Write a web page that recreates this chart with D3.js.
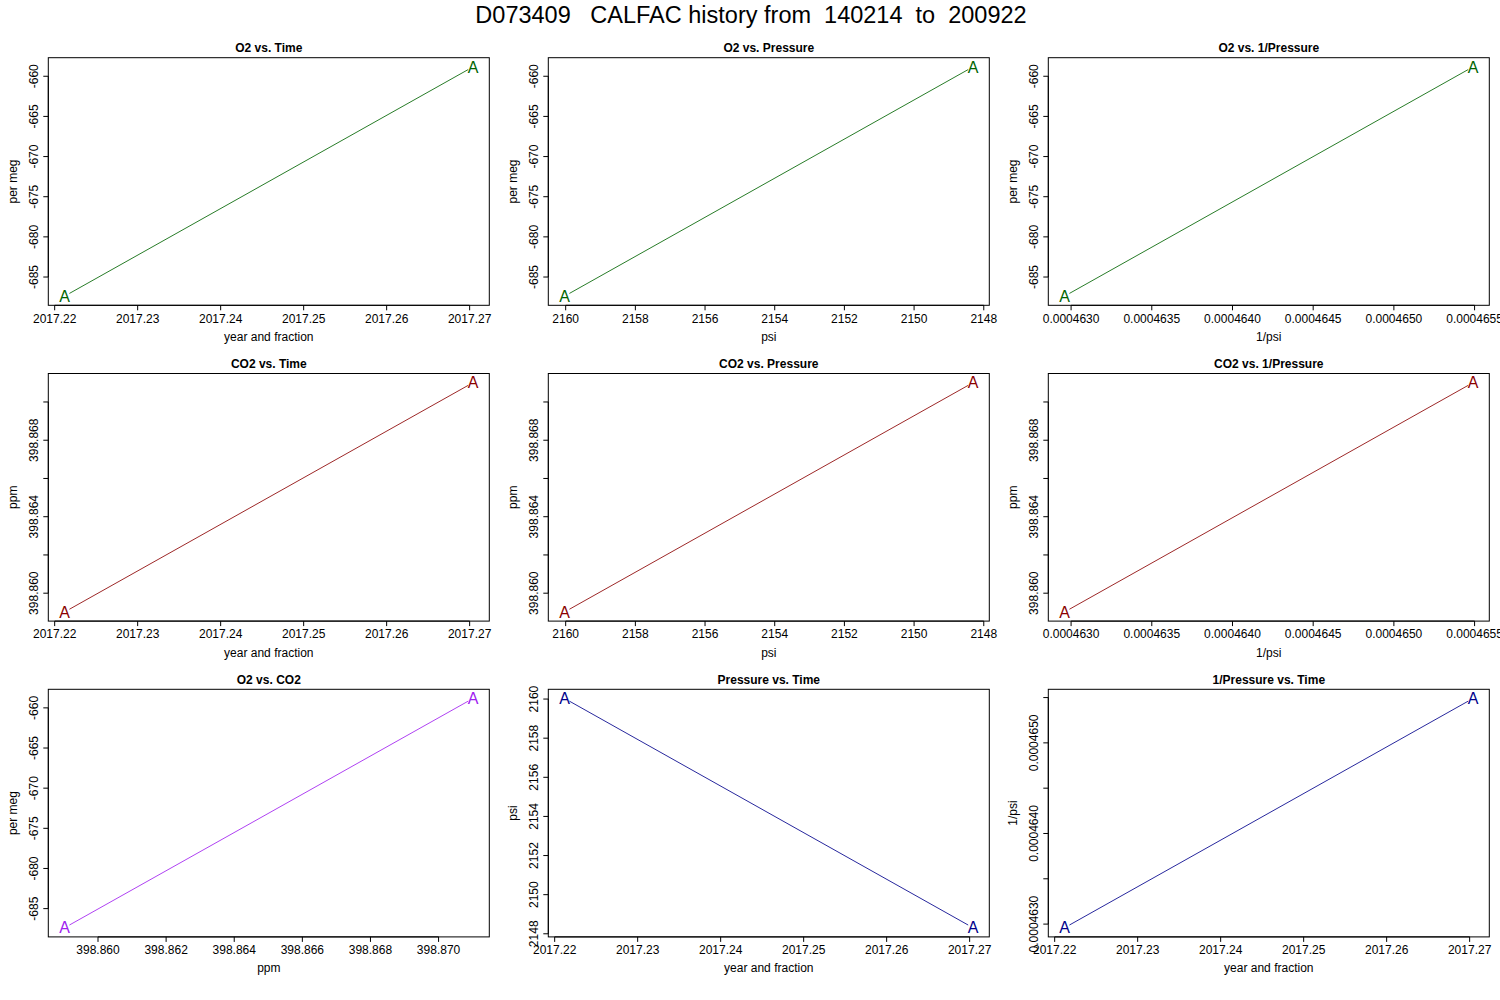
<!DOCTYPE html>
<html>
<head>
<meta charset="utf-8">
<script src="https://cdn.jsdelivr.net/npm/d3@7"></script>
<style>
  html, body { margin: 0; padding: 0; background: #fff; }
  svg { display: block; font-family: "Liberation Sans", Arial, Helvetica, sans-serif; }
</style>
</head>
<body>
<svg id="chart" width="1500" height="1000"></svg>
<script>
// ---- data ----
const mainTitle = "D073409   CALFAC history from  140214  to  200922";
const timeVals = [2017.2212, 2017.2704];          // year and fraction
const o2Vals = [-687.38, -658.83];                // per meg
const co2Vals = [398.85902, 398.87101];           // ppm
const psiVals = [2160.03, 2148.31];               // psi
const invPsiVals = [0.00046296, 0.00046549];      // 1/psi
const pointLabels = ["A", "A"];

const series = { time: timeVals, o2: o2Vals, co2: co2Vals, psi: psiVals, inv: invPsiVals };
const tickFormats = {
  time: d => d.toFixed(2),
  o2: d => d3.format("d")(d).replace("−", "-"),
  co2: d => d.toFixed(3),
  psi: d => d3.format("d")(d),
  inv: d => d.toFixed(7)
};

const panelTitles = ["O2 vs. Time", "O2 vs. Pressure", "O2 vs. 1/Pressure",
                     "CO2 vs. Time", "CO2 vs. Pressure", "CO2 vs. 1/Pressure",
                     "O2 vs. CO2", "Pressure vs. Time", "1/Pressure vs. Time"];
const panelX = ["time", "psi", "inv", "time", "psi", "inv", "co2", "time", "time"];
const panelY = ["o2", "o2", "o2", "co2", "co2", "co2", "o2", "psi", "inv"];
const xLabels = ["year and fraction", "psi", "1/psi", "year and fraction", "psi", "1/psi",
                 "ppm", "year and fraction", "year and fraction"];
const yLabels = ["per meg", "per meg", "per meg", "ppm", "ppm", "ppm", "per meg", "psi", "1/psi"];
const panelColors = ["#006400", "#006400", "#006400", "#8B0000", "#8B0000", "#8B0000",
                     "#A020F0", "#00008B", "#00008B"];
const reversedX = [false, true, false, false, true, false, false, false, false];

// ---- layout ----
const svg = d3.select("#chart");
const colW = 500, rowH = 315.8;
const boxL0 = 48.3, boxW = 441, boxT0 = 57.7, boxH = 247.6;
const tickLen = 5, labelGap = 10; // labelGap ~ one 'm' width (R gap.axis)

svg.append("text")
  .attr("x", 751).attr("y", 23.3)
  .attr("text-anchor", "middle")
  .attr("font-size", 23.5)
  .style("white-space", "pre")
  .text(mainTitle);

function rExtent(vals) {
  const [a, b] = d3.extent(vals);
  const r = b - a;
  return [a - 0.04 * r, b + 0.04 * r];
}

panelTitles.forEach((title, i) => {
  const col = i % 3, row = Math.floor(i / 3);
  const L = boxL0 + col * colW, R = L + boxW;
  const T = boxT0 + row * rowH, B = T + boxH;
  const xs = series[panelX[i]], ys = series[panelY[i]];
  const xd = rExtent(xs), yd = rExtent(ys);
  const x = d3.scaleLinear().domain(reversedX[i] ? [xd[1], xd[0]] : xd).range([L, R]);
  const y = d3.scaleLinear().domain(yd).range([B, T]);
  const g = svg.append("g");
  const color = panelColors[i];

  // panel title
  g.append("text").attr("x", (L + R) / 2).attr("y", T - 5.7)
    .attr("text-anchor", "middle").attr("font-size", 12).attr("font-weight", "bold")
    .text(title);

  // x axis
  const xt = x.ticks(5).slice().sort((a, b) => x(a) - x(b));
  const xAxis = g.append("g").attr("transform", `translate(0,${B})`);
  xAxis.append("line").attr("x1", x(xt[0])).attr("x2", x(xt[xt.length - 1]))
    .attr("stroke", "#000");
  const xf = tickFormats[panelX[i]];
  let lastEdge = null;
  xt.forEach(v => {
    const px = x(v);
    xAxis.append("line").attr("x1", px).attr("x2", px).attr("y1", 0).attr("y2", tickLen)
      .attr("stroke", "#000");
    const t = xAxis.append("text").attr("x", px).attr("y", 17.4)
      .attr("text-anchor", "middle").attr("font-size", 12).text(xf(v));
    const w = t.node().getComputedTextLength();
    if (lastEdge !== null && px - w / 2 < lastEdge + labelGap) { t.remove(); }
    else { lastEdge = px + w / 2; }
  });
  g.append("text").attr("x", (L + R) / 2).attr("y", B + 35.4)
    .attr("text-anchor", "middle").attr("font-size", 12).text(xLabels[i]);

  // y axis
  const yt = y.ticks(5);
  const yAxis = g.append("g").attr("transform", `translate(${L},0)`);
  yAxis.append("line").attr("y1", y(yt[0])).attr("y2", y(yt[yt.length - 1]))
    .attr("stroke", "#000");
  const yf = tickFormats[panelY[i]];
  let lastTop = null;
  yt.forEach(v => {
    const py = y(v);
    yAxis.append("line").attr("x1", 0).attr("x2", -tickLen).attr("y1", py).attr("y2", py)
      .attr("stroke", "#000");
    const t = yAxis.append("text")
      .attr("transform", `translate(-10.6,${py}) rotate(-90)`)
      .attr("text-anchor", "middle").attr("font-size", 12).text(yf(v));
    const w = t.node().getComputedTextLength();
    const bottom = py + w / 2, top = py - w / 2;
    if (lastTop !== null && bottom > lastTop - labelGap) { t.remove(); }
    else { lastTop = top; }
  });
  g.append("text")
    .attr("transform", `translate(${L - 31},${(T + B) / 2}) rotate(-90)`)
    .attr("text-anchor", "middle").attr("font-size", 12).text(yLabels[i]);

  // box
  g.append("rect").attr("x", L).attr("y", T).attr("width", boxW).attr("height", boxH)
    .attr("fill", "none").attr("stroke", "#000");

  // line (type "b": gaps around the points)
  const pts = xs.map((v, k) => [x(v), y(ys[k])]);
  const gap = 5.5;
  for (let k = 0; k < pts.length - 1; k++) {
    const [x1, y1] = pts[k], [x2, y2] = pts[k + 1];
    const dx = x2 - x1, dy = y2 - y1, d = Math.hypot(dx, dy);
    const ux = dx / d, uy = dy / d;
    g.append("line")
      .attr("x1", x1 + ux * gap).attr("y1", y1 + uy * gap)
      .attr("x2", x2 - ux * gap).attr("y2", y2 - uy * gap)
      .attr("stroke", color).attr("stroke-width", 0.85);
  }
  // point labels
  g.selectAll("text.pt").data(pts).enter().append("text").attr("class", "pt")
    .attr("x", d => d[0]).attr("y", d => d[1] + 5.7)
    .attr("text-anchor", "middle").attr("font-size", 16).attr("fill", color)
    .text((d, k) => pointLabels[k]);
});
</script>
</body>
</html>
